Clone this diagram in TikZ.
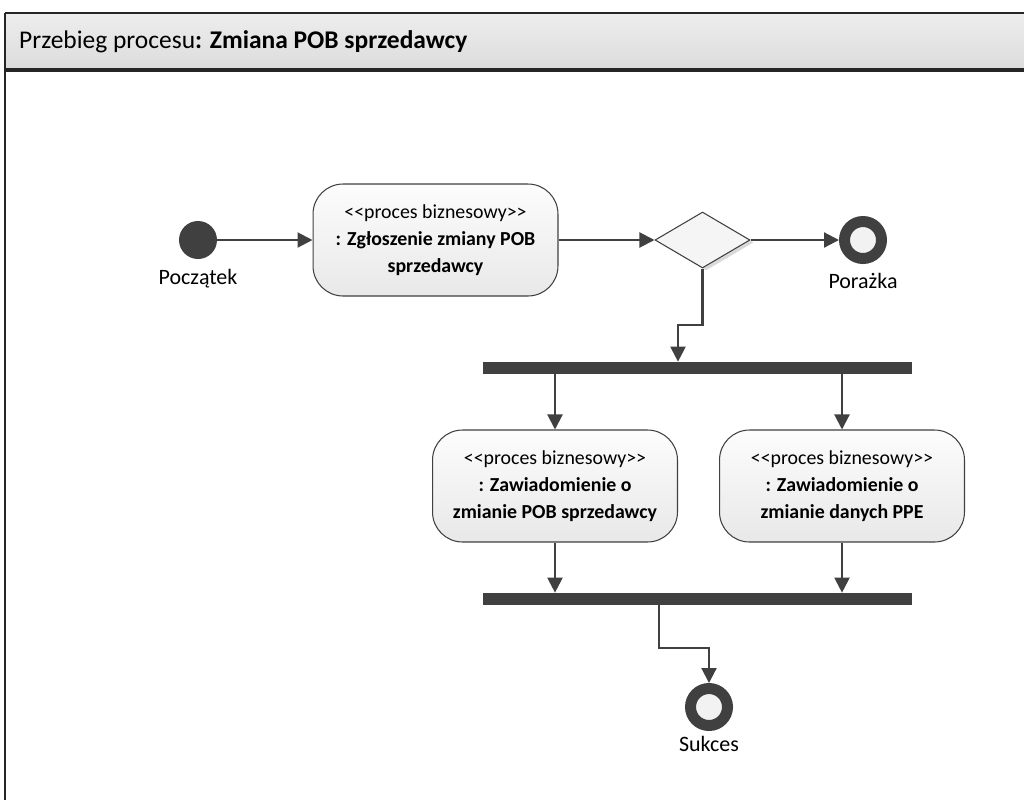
\documentclass[tikz,border=0pt]{standalone}
\usepackage{fontspec}
\setmainfont{Carlito}
\usepackage{tikz}
\usetikzlibrary{shapes.geometric, arrows.meta, positioning, shadows}
\definecolor{mydark}{HTML}{404040}
\definecolor{myhead}{HTML}{DCDCDC}
\newcommand{\stereo}{<\kern0pt<proces biznesowy>\kern0pt>}
\tikzstyle{proc} = [rectangle, rounded corners=0.6cm, minimum width=4.9cm, minimum height=2.24cm, align=center, draw=mydark, line width=0.6pt, top color=black!1, bottom color=black!9, font=\fontsize{11.3}{15.4}\selectfont]
\tikzstyle{bar} = [rectangle, fill=mydark, minimum width=8.58cm, minimum height=0.24cm, inner sep=0pt]
\tikzstyle{endnode} = [circle, draw=mydark, line width=0.22cm, fill=black!5, minimum size=0.74cm, inner sep=0pt]
\tikzstyle{lbl} = [font=\fontsize{12.5}{14}\selectfont]
\tikzstyle{flow} = [mydark, line width=1.2pt, -{Triangle[length=0.3cm,width=0.3cm]}]

\begin{document}
\begin{tikzpicture}[x=0.02cm, y=-0.02cm]
    \useasboundingbox (0,0) rectangle (1024,799);
    % frame and header
    \shade[top color=black!7, bottom color=myhead] (5,13) rectangle (1040,70);
    \draw[black!85, line width=1.2pt] (5,13) -- (1040,13);
    \draw[black!85, line width=1.8pt] (5,70) -- (1040,70);
    \draw[black!85, line width=1.2pt] (5,13) -- (5,820);
    \node[anchor=west, font=\fontsize{14.5}{16}\selectfont] (title) at (13,42) {Przebieg procesu\textbf{: Zmiana POB sprzedawcy}};

    % nodes
    \node[circle, fill=mydark, minimum size=0.76cm, inner sep=0pt] (start) at (198,240) {};
    \node[lbl] (startlbl) at (198,279) {Początek};
    \node[proc] (zgl) at (435.5,240) {\stereo\\\textbf{: Zgłoszenie zmiany POB}\\\textbf{sprzedawcy}};
    \node[diamond, draw=mydark, line width=0.6pt, fill=black!4, minimum width=1.9cm, minimum height=1.12cm, inner sep=0pt,
          drop shadow={shadow xshift=0.07cm, shadow yshift=-0.05cm, fill=black!15, opacity=1}] (dec) at (702.5,240) {};
    \node[endnode] (fail) at (863,240) {};
    \node[lbl] (faillbl) at (863,281) {Porażka};
    \node[bar] (fork) at (697.5,368) {};
    \node[proc] (zaw1) at (555,486) {\stereo\\\textbf{: Zawiadomienie o}\\\textbf{zmianie POB sprzedawcy}};
    \node[proc] (zaw2) at (842,486) {\stereo\\\textbf{: Zawiadomienie o}\\\textbf{zmianie danych PPE}};
    \node[bar] (join) at (697.5,599) {};
    \node[endnode] (ok) at (709,707) {};
    \node[lbl] (oklbl) at (709,744) {Sukces};
    \coordinate (k1) at (678,325);
    \coordinate (k2) at (659,648);

    % connectors
    \draw[flow] (start) -- (zgl);
    \draw[flow] (zgl) -- (dec);
    \draw[flow] (dec) -- (fail);
    \draw[flow] (dec.south) |- (k1) -- (k1 |- fork.north);
    \draw[flow] (zaw1.north |- fork.south) -- (zaw1.north);
    \draw[flow] (zaw2.north |- fork.south) -- (zaw2.north);
    \draw[flow] (zaw1.south) -- (zaw1.south |- join.north);
    \draw[flow] (zaw2.south) -- (zaw2.south |- join.north);
    \draw[flow] (k2 |- join.south) -- (k2) -| (ok.north);
\end{tikzpicture}
\end{document}
